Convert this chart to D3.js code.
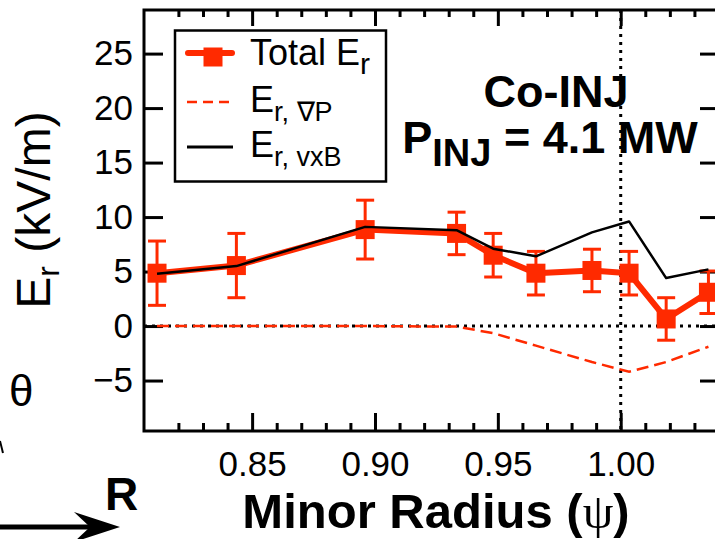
<!DOCTYPE html>
<html>
<head>
<meta charset="utf-8">
<script src="https://cdn.jsdelivr.net/npm/d3@7/dist/d3.min.js"></script>
<style>
  html, body { margin: 0; padding: 0; background: #fff; }
  svg { display: block; }
  text { font-family: "Liberation Sans", Arial, Helvetica, sans-serif; fill: #000; }
</style>
</head>
<body>
<svg id="chart" width="715" height="539"></svg>
<script>
// Normalized minor radius of each measurement
const psi = [0.8113, 0.8436, 0.8960, 0.9332, 0.9481, 0.9655, 0.9883, 1.0034, 1.0185, 1.0357];
// Total radial electric field (kV/m) and its uncertainty
const totalEr = [4.85, 5.55, 8.85, 8.5, 6.5, 4.85, 5.1, 4.85, 0.65, 3.1];
const totalErrs = [2.95, 2.95, 2.7, 1.95, 2.0, 2.0, 1.95, 2.0, 1.95, 1.95];
// Pressure-gradient contribution
const erGradP = [0, 0, 0, -0.05, -0.65, -1.8, -3.3, -4.2, -3.3, -1.9];
// v x B contribution
const erVxB = [4.8, 5.5, 9.1, 8.8, 7.1, 6.4, 8.6, 9.6, 4.4, 5.2];

const yTicks = [-5, 0, 5, 10, 15, 20, 25];
const xMajorTicks = [0.85, 0.90, 0.95, 1.00];
const xMinorTicks = [0.82, 0.83, 0.84, 0.86, 0.87, 0.88, 0.89, 0.91, 0.92, 0.93, 0.94,
                     0.96, 0.97, 0.98, 0.99, 1.01, 1.02, 1.03];

const RED = "#ff2a00";
const svg = d3.select("#chart");

const L = 144, R = 719, T = 10, B = 431;
const x = d3.scaleLinear().domain([0.806, 1.04]).range([L, R]);
const y = d3.scaleLinear().domain([-9.63, 29.0]).range([B, T]);

// ---- axes ----
function styleAxis(g) {
  g.select(".domain").remove();
  g.selectAll(".tick line").attr("stroke", "#000").attr("stroke-width", 3);
  g.selectAll(".tick text").attr("font-size", 35).attr("font-family", "Liberation Sans, Arial, sans-serif");
}

svg.append("g").attr("transform", `translate(${L},0)`)
  .call(d3.axisLeft(y).tickValues(yTicks).tickSize(-19).tickPadding(11).tickFormat(d3.format("d")))
  .call(styleAxis);
svg.append("g").attr("transform", `translate(${R},0)`)
  .call(d3.axisRight(y).tickValues(yTicks).tickSize(-19).tickFormat(""))
  .call(styleAxis);

svg.append("g").attr("transform", `translate(0,${B})`)
  .call(d3.axisBottom(x).tickValues(xMajorTicks).tickSize(-18).tickPadding(20).tickFormat(d3.format(".2f")))
  .call(styleAxis);
svg.append("g").attr("transform", `translate(0,${B})`)
  .call(d3.axisBottom(x).tickValues(xMinorTicks).tickSize(-8).tickFormat(""))
  .call(styleAxis);
svg.append("g").attr("transform", `translate(0,${T})`)
  .call(d3.axisTop(x).tickValues(xMajorTicks).tickSize(-16).tickFormat(""))
  .call(styleAxis);
svg.append("g").attr("transform", `translate(0,${T})`)
  .call(d3.axisTop(x).tickValues(xMinorTicks).tickSize(-7).tickFormat(""))
  .call(styleAxis);

// plot frame
svg.append("rect").attr("x", L).attr("y", T).attr("width", R - L).attr("height", B - T)
  .attr("fill", "none").attr("stroke", "#000").attr("stroke-width", 3);

// ---- annotation text ----
const ann = svg.append("text").attr("text-anchor", "middle")
  .attr("font-weight", "bold").attr("font-size", 45);
ann.append("tspan").attr("x", 556).attr("y", 107).text("Co-INJ");
const ann2 = svg.append("text").attr("x", 550).attr("y", 153).attr("text-anchor", "middle")
  .attr("font-weight", "bold").attr("font-size", 45);
ann2.append("tspan").text("P");
ann2.append("tspan").attr("font-size", 38).attr("dy", 13).text("INJ");
ann2.append("tspan").attr("dy", -13).text(" = 4.1 MW");

// ---- reference lines (zero and separatrix) ----
svg.append("line").attr("x1", L).attr("x2", R).attr("y1", y(0)).attr("y2", y(0))
  .attr("stroke", "#000").attr("stroke-width", 3).attr("stroke-dasharray", "3,5");
svg.append("line").attr("x1", x(1.0)).attr("x2", x(1.0)).attr("y1", T).attr("y2", B)
  .attr("stroke", "#000").attr("stroke-width", 3).attr("stroke-dasharray", "3,5");

// ---- series ----
const idx = d3.range(psi.length);
const lineOf = vals => d3.line().x(i => x(psi[i])).y(i => y(vals[i]))(idx);

svg.append("path").attr("d", lineOf(erGradP)).attr("fill", "none")
  .attr("stroke", RED).attr("stroke-width", 2.5).attr("stroke-dasharray", "12,6");

svg.append("path").attr("d", lineOf(totalEr)).attr("fill", "none")
  .attr("stroke", RED).attr("stroke-width", 6).attr("stroke-linejoin", "round");

const eb = svg.append("g").attr("stroke", RED).attr("stroke-width", 3);
idx.forEach(i => {
  const cx = x(psi[i]), y1 = y(totalEr[i] + totalErrs[i]), y2 = y(totalEr[i] - totalErrs[i]);
  eb.append("line").attr("x1", cx).attr("x2", cx).attr("y1", y1).attr("y2", y2);
  eb.append("line").attr("x1", cx - 9).attr("x2", cx + 9).attr("y1", y1).attr("y2", y1);
  eb.append("line").attr("x1", cx - 9).attr("x2", cx + 9).attr("y1", y2).attr("y2", y2);
});

svg.append("g").selectAll("rect").data(idx).join("rect")
  .attr("x", i => x(psi[i]) - 9.5).attr("y", i => y(totalEr[i]) - 9.5)
  .attr("width", 19).attr("height", 19).attr("fill", RED);

svg.append("path").attr("d", lineOf(erVxB)).attr("fill", "none")
  .attr("stroke", "#000").attr("stroke-width", 2.5).attr("stroke-linejoin", "round");

// ---- legend ----
const lg = svg.append("g");
lg.append("rect").attr("x", 175).attr("y", 30.5).attr("width", 211).attr("height", 151)
  .attr("fill", "#fff").attr("stroke", "#000").attr("stroke-width", 2.5);
lg.append("line").attr("x1", 188).attr("x2", 232).attr("y1", 53).attr("y2", 53)
  .attr("stroke", RED).attr("stroke-width", 6).attr("stroke-linecap", "round");
lg.append("rect").attr("x", 203.5).attr("y", 47.5).attr("width", 19).attr("height", 19).attr("fill", RED);
lg.append("line").attr("x1", 187).attr("x2", 233).attr("y1", 102).attr("y2", 102)
  .attr("stroke", RED).attr("stroke-width", 2.5).attr("stroke-dasharray", "10,6");
lg.append("line").attr("x1", 187).attr("x2", 233).attr("y1", 147).attr("y2", 147)
  .attr("stroke", "#000").attr("stroke-width", 3);

const legendLabels = [
  { main: "Total E", sub: "r", y: 65 },
  { main: "E", sub: "r, \u2207P", y: 112 },
  { main: "E", sub: "r, vxB", y: 157 }
];
legendLabels.forEach((d, k) => {
  const t = lg.append("text").attr("x", 250).attr("y", d.y).attr("font-size", 36);
  t.append("tspan").text(d.main);
  t.append("tspan").attr("dy", 9).attr("font-size", k === 0 ? 30 : 27).text(d.sub);
});

// ---- axis titles ----
const yt = svg.append("text").attr("transform", "translate(50,210) rotate(-90)")
  .attr("text-anchor", "middle").attr("font-size", 48);
yt.append("tspan").text("E");
yt.append("tspan").attr("font-size", 32).attr("dy", 9).text("r");
yt.append("tspan").attr("dy", -9).text(" (kV/m)");

const xt = svg.append("text").attr("x", 436).attr("y", 528).attr("text-anchor", "middle")
  .attr("font-weight", "bold").attr("font-size", 49);
xt.append("tspan").text("Minor Radius (");
xt.append("tspan").attr("font-family", "Liberation Serif, serif").attr("font-weight", "normal").text("\u03C8");
xt.append("tspan").text(")");

// ---- geometry sketch at lower left ----
svg.append("text").attr("x", 9).attr("y", 406).attr("font-size", 44)
  .attr("font-family", "Liberation Serif, serif").text("\u03B8");
svg.append("path").attr("d", "M0,441 L3,453").attr("stroke", "#000").attr("stroke-width", 2).attr("fill", "none");
svg.append("text").attr("x", 105).attr("y", 510).attr("font-size", 46).attr("font-weight", "bold").text("R");
svg.append("line").attr("x1", 0).attr("x2", 96).attr("y1", 527).attr("y2", 527)
  .attr("stroke", "#000").attr("stroke-width", 5);
svg.append("path").attr("d", "M120,527 L74,512 L90,527 L74,542 Z").attr("fill", "#000");
</script>
</body>
</html>
